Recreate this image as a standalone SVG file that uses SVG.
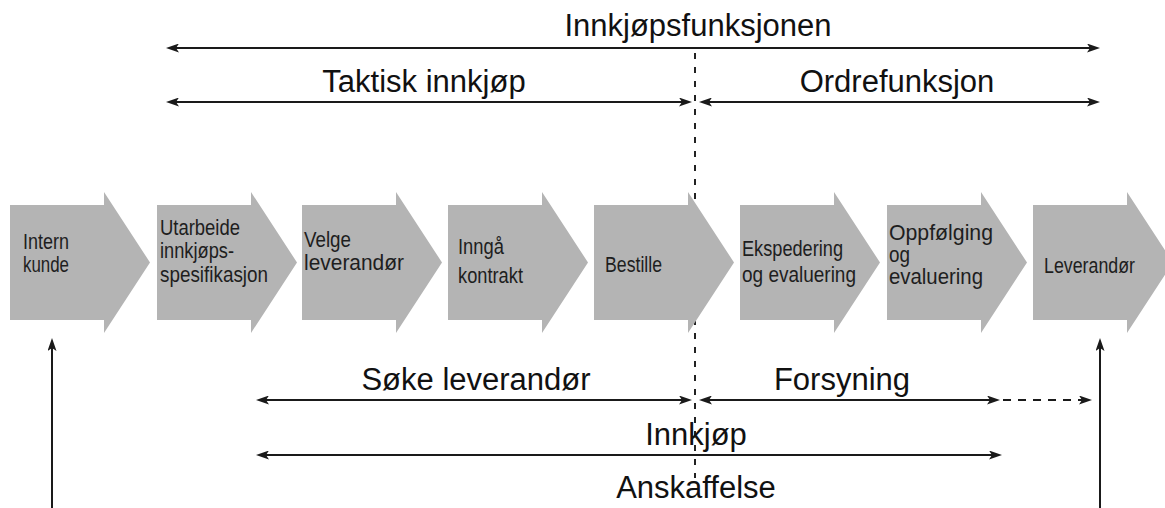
<svg xmlns="http://www.w3.org/2000/svg" width="1165" height="508" viewBox="0 0 1165 508">
<defs>
<style>
.box{fill:#b4b4b4;}
.bt{font-family:"Liberation Sans",Arial,sans-serif;font-size:21.5px;fill:#1e1e1e;}
.lbl{font-family:"Liberation Sans",Arial,sans-serif;font-size:31px;fill:#111;text-anchor:middle;}
.ln{stroke:#1a1a1a;stroke-width:2;fill:none;}
.dash{stroke:#222;stroke-width:2;fill:none;stroke-dasharray:6 8;}
</style>
<marker id="ah" viewBox="0 0 13 9" refX="3" refY="4.5" markerWidth="13" markerHeight="9" markerUnits="userSpaceOnUse" orient="auto-start-reverse">
<path d="M0,0 L13,4.5 L0,9 L3,4.5 z" fill="#1a1a1a"/>
</marker>
</defs>
<rect width="1165" height="508" fill="#fff"/>

<g id="divider">
<line class="dash" x1="695" y1="53" x2="695" y2="478"/>
</g>

<g id="n1"><polygon class="box" points="10,205 104,205 104,192 150,262.5 104,333 104,320 10,320"/>
<text class="bt" x="23" y="249" textLength="46" lengthAdjust="spacingAndGlyphs">Intern</text>
<text class="bt" x="23" y="272" textLength="46" lengthAdjust="spacingAndGlyphs">kunde</text></g>

<g id="n2"><polygon class="box" points="157,205 251,205 251,192 297,262.5 251,333 251,320 157,320"/>
<text class="bt" x="160" y="235" textLength="80" lengthAdjust="spacingAndGlyphs">Utarbeide</text>
<text class="bt" x="160" y="258" textLength="74" lengthAdjust="spacingAndGlyphs">innkjøps-</text>
<text class="bt" x="160" y="282" textLength="108" lengthAdjust="spacingAndGlyphs">spesifikasjon</text></g>

<g id="n3"><polygon class="box" points="302,205 396,205 396,192 442,262.5 396,333 396,320 302,320"/>
<text class="bt" x="304" y="247" textLength="47" lengthAdjust="spacingAndGlyphs">Velge</text>
<text class="bt" x="304" y="270" textLength="100" lengthAdjust="spacingAndGlyphs">leverandør</text></g>

<g id="n4"><polygon class="box" points="448,205 542,205 542,192 588,262.5 542,333 542,320 448,320"/>
<text class="bt" x="458" y="254" textLength="46" lengthAdjust="spacingAndGlyphs">Inngå</text>
<text class="bt" x="458" y="283" textLength="65" lengthAdjust="spacingAndGlyphs">kontrakt</text></g>

<g id="n5"><polygon class="box" points="594,205 688,205 688,192 734,262.5 688,333 688,320 594,320"/>
<text class="bt" x="605" y="272" textLength="57" lengthAdjust="spacingAndGlyphs">Bestille</text></g>

<g id="n6"><polygon class="box" points="740,205 834,205 834,192 880,262.5 834,333 834,320 740,320"/>
<text class="bt" x="742" y="256" textLength="101" lengthAdjust="spacingAndGlyphs">Ekspedering</text>
<text class="bt" x="742" y="282" textLength="114" lengthAdjust="spacingAndGlyphs">og evaluering</text></g>

<g id="n7"><polygon class="box" points="887,205 981,205 981,192 1027,262.5 981,333 981,320 887,320"/>
<text class="bt" x="889" y="240" textLength="104" lengthAdjust="spacingAndGlyphs">Oppfølging</text>
<text class="bt" x="889" y="262" textLength="21" lengthAdjust="spacingAndGlyphs">og</text>
<text class="bt" x="889" y="284" textLength="94" lengthAdjust="spacingAndGlyphs">evaluering</text></g>

<g id="n8"><polygon class="box" points="1033,205 1127,205 1127,192 1173,262.5 1127,333 1127,320 1033,320"/>
<text class="bt" x="1044" y="273" textLength="91" lengthAdjust="spacingAndGlyphs">Leverandør</text></g>

<g id="labels">
<text class="lbl" x="698" y="36">Innkjøpsfunksjonen</text>
<text class="lbl" x="424" y="92">Taktisk innkjøp</text>
<text class="lbl" x="897" y="92">Ordrefunksjon</text>
<text class="lbl" x="476" y="390">Søke leverandør</text>
<text class="lbl" x="842" y="390">Forsyning</text>
<text class="lbl" x="696" y="445">Innkjøp</text>
<text class="lbl" x="696" y="498">Anskaffelse</text>
</g>

<g id="connectors">
<line class="ln" x1="176" y1="48" x2="1090" y2="48" marker-start="url(#ah)" marker-end="url(#ah)"/>
<line class="ln" x1="176" y1="102" x2="682" y2="102" marker-start="url(#ah)" marker-end="url(#ah)"/>
<line class="ln" x1="709" y1="102" x2="1090" y2="102" marker-start="url(#ah)" marker-end="url(#ah)"/>
<line class="ln" x1="266" y1="400" x2="682" y2="400" marker-start="url(#ah)" marker-end="url(#ah)"/>
<line class="ln" x1="709" y1="400" x2="990" y2="400" marker-start="url(#ah)" marker-end="url(#ah)"/>
<line class="ln" x1="1003" y1="400" x2="1082" y2="400" stroke-dasharray="8 7" marker-end="url(#ah)"/>
<line class="ln" x1="266" y1="455" x2="992" y2="455" marker-start="url(#ah)" marker-end="url(#ah)"/>
<line class="ln" x1="52" y1="508" x2="52" y2="348" marker-end="url(#ah)"/>
<line class="ln" x1="1100" y1="508" x2="1100" y2="348" marker-end="url(#ah)"/>
</g>
</svg>
